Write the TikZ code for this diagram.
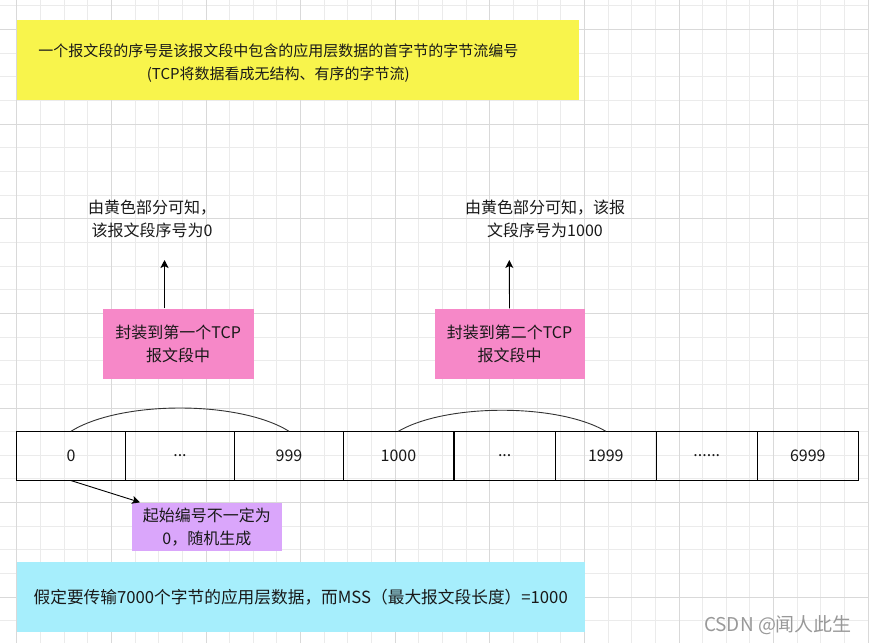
\documentclass[tikz,border=0pt]{standalone}
\usepackage{fontspec}
\setmainfont{Noto Sans CJK SC}
\usetikzlibrary{arrows.meta}

\definecolor{notey}{HTML}{F8F44C}
\definecolor{notep}{HTML}{F688C8}
\definecolor{notev}{HTML}{DAA6FB}
\definecolor{notec}{HTML}{A6EEFC}
\definecolor{gridlo}{HTML}{EBEBEB}
\definecolor{gridhi}{HTML}{D9D9D9}

\begin{document}
\begin{tikzpicture}[
  x=1pt, y=-1pt,
  every node/.style={font=\fontsize{16}{23}\selectfont, text=black!90, inner sep=0pt},
  note/.style={anchor=north west, align=center},
  cell/.style={draw=black, line width=1pt, minimum height=48.3pt},
  arcline/.style={draw=black!80, line width=0.9pt},
  arrow/.style={draw=black, line width=0.9pt,
    -{Stealth[length=8pt,width=8pt,inset=2pt]}},
  gridminor/.style={draw=gridlo, line width=0.8pt},
  gridmajor/.style={draw=gridhi, line width=0.8pt}]
  \useasboundingbox (0,0) rectangle (869,643);
  \fill[white] (0,0) rectangle (869,643);
  % background grid
  \foreach \i in {0,...,36} \draw[gridminor] ({16.7+23.65*\i},0) -- ++(0,643);
  \foreach \j in {-1,...,25} \draw[gridminor] (0,{29.5+23.65*\j}) -- ++(869,0);
  \foreach \i in {0,...,9} \draw[gridmajor] ({16.7+94.6*\i},0) -- ++(0,643);
  \foreach \j in {0,...,6} \draw[gridmajor] (0,{29.5+94.6*\j}) -- ++(869,0);

  % notes
  \node[note, fill=notey, minimum width=562.3pt, minimum height=80.7pt] (head) at (16.7,19.3) {};
  \node[align=center, font=\fontsize{15}{23.3}\selectfont] (headtext) at (278.3,63)
    {一个报文段的序号是该报文段中包含的应用层数据的首字节的字节流编号\\(TCP将数据看成无结构、有序的字节流)};
  \node[note, fill=notep, minimum width=150.6pt, minimum height=70pt] (pk1) at (102.7,308.3)
    {封装到第一个TCP\\报文段中};
  \node[note, fill=notep, minimum width=150pt, minimum height=70pt] (pk2) at (434.3,308.3)
    {封装到第二个TCP\\报文段中};
  \node[note, fill=notev, minimum width=150pt, minimum height=48.7pt] (start) at (131.7,502.3)
    {起始编号不一定为\\0，随机生成};
  \node[note, fill=notec, minimum width=567.6pt, minimum height=70pt,
    font=\fontsize{16.7}{23}\selectfont] (task) at (16.7,561.7)
    {假定要传输7000个字节的应用层数据，而MSS（最大报文段长度）=1000};

  % labels above the segments
  \node[align=center] (seq1) at (152,219) {由黄色部分可知，\\该报文段序号为0};
  \node[align=center] (seq2) at (545,219) {由黄色部分可知，该报\\文段序号为1000};
  \coordinate (tip1) at (164.5,260);
  \coordinate (tip2) at (509.3,260);

  % byte stream
  \node[cell, minimum width=108.6pt] (c0) at (71.0,455.9) {0};
  \node[cell, minimum width=109.4pt] (c1) at (180.0,455.9) {...};
  \node[cell, minimum width=108.6pt] (c2) at (289.0,455.9) {999};
  \node[cell, minimum width=110.0pt] (c3) at (398.4,455.9) {1000};
  \node[cell, minimum width=101.3pt] (c4) at (504.7,455.9) {...};
  \node[cell, minimum width=101.0pt] (c5) at (605.8,455.9) {1999};
  \node[cell, minimum width=101.0pt] (c6) at (706.8,455.9) {......};
  \node[cell, minimum width=101.0pt] (c7) at (807.8,455.9) {6999};

  % connectors
  \draw[arcline] (c0.north) .. controls +(50,-31) and +(-50,-31) .. (c2.north);
  \draw[arcline] (c3.north) .. controls +(48,-28) and +(-48,-28) .. (c5.north);
  \draw[arrow] (pk1.north -| tip1) -- (tip1);
  \draw[arrow] (pk2.north) -- (tip2);
  \draw[arrow] (c0.south) -- ([xshift=8.3pt]start.north west);

  \node[text=black!40, font=\fontsize{19}{23}\selectfont] (mark) at (778,625) {CSDN @闻人此生};
\end{tikzpicture}
\end{document}
